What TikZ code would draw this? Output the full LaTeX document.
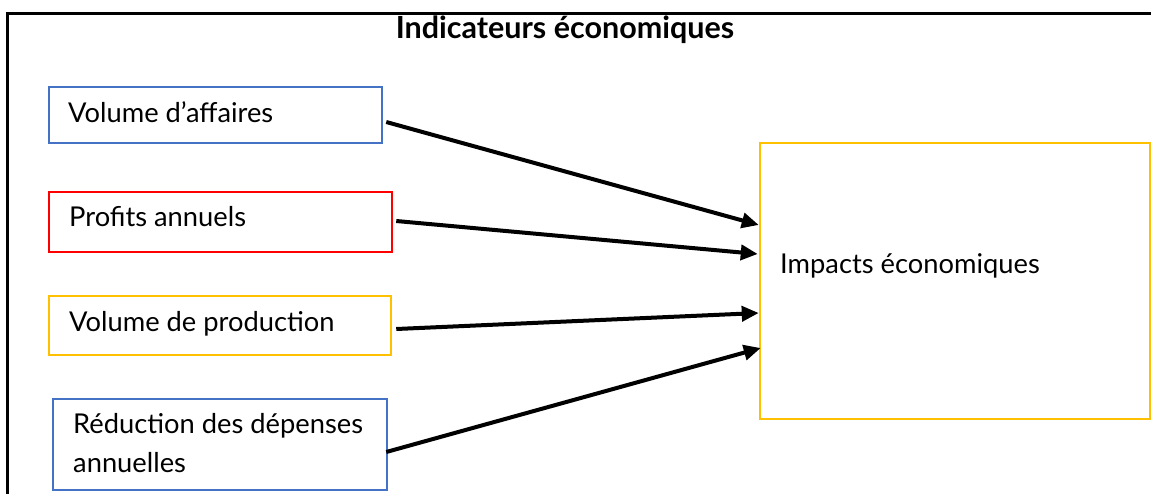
\documentclass[tikz,border=0pt]{standalone}
\usepackage{fontspec}
\setmainfont{Lato}
\usetikzlibrary{arrows.meta}
\definecolor{offblue}{HTML}{4472C4}
\definecolor{offred}{HTML}{FF0000}
\definecolor{offyellow}{HTML}{FFC000}
\tikzset{
  box/.style={draw, line width=2.5pt, inner sep=0pt, minimum width=#1},
  lbl/.style={anchor=base west, inner sep=0pt, font=\fontsize{27.3}{33}\selectfont},
  arr/.style={line width=4pt, -{Triangle[length=17pt,width=15pt]}},
  frame/.style={line width=3pt}
}
\begin{document}
\begin{tikzpicture}[x=1pt,y=-1pt]
\useasboundingbox (0,0) rectangle (1151,493);
% outer frame
\coordinate (ftl) at (7,13);
\coordinate (ftr) at (1152,13);
\coordinate (fbl) at (7,494);
\draw[frame] (ftr) -- (ftl) -- (fbl);
% title
\node[anchor=base, inner sep=0pt, font=\fontsize{30.5}{36}\bfseries\selectfont] (title) at (565,38) {Indicateurs économiques};
% boxes
\node[box=333pt, minimum height=56pt, draw=offblue] (va) at (215.5,115) {};
\node[box=343pt, minimum height=60pt, draw=offred] (pa) at (220.5,222) {};
\node[box=342pt, minimum height=59pt, draw=offyellow] (vp) at (220,325.5) {};
\node[box=334pt, minimum height=91pt, draw=offblue] (rd) at (220,444.5) {};
\node[box=390pt, minimum height=276pt, draw=offyellow] (imp) at (955,281) {};
% texts
\node[lbl] (vat) at (68,122) {Volume d’affaires};
\node[lbl] (pat) at (69,226) {Profits annuels};
\node[lbl] (vpt) at (69,331) {Volume de production};
\node[lbl] (rdt1) at (73,433) {Réduction des dépenses};
\node[lbl] (rdt2) at (73,472) {annuelles};
\node[lbl] (impt) at (780,273) {Impacts économiques};
% arrows
\draw[arr] ([xshift=3pt,yshift=-7pt]va.east) -- ([yshift=56pt]imp.west);
\draw[arr] ([xshift=3pt,yshift=1pt]pa.east) -- ([xshift=-1pt,yshift=27pt]imp.west);
\draw[arr] ([xshift=4pt,yshift=-3.5pt]vp.east) -- ([yshift=-32pt]imp.west);
\draw[arr] ([xshift=-2pt,yshift=-7.5pt]rd.east) -- ([xshift=2pt,yshift=-67pt]imp.west);
\end{tikzpicture}
\end{document}
